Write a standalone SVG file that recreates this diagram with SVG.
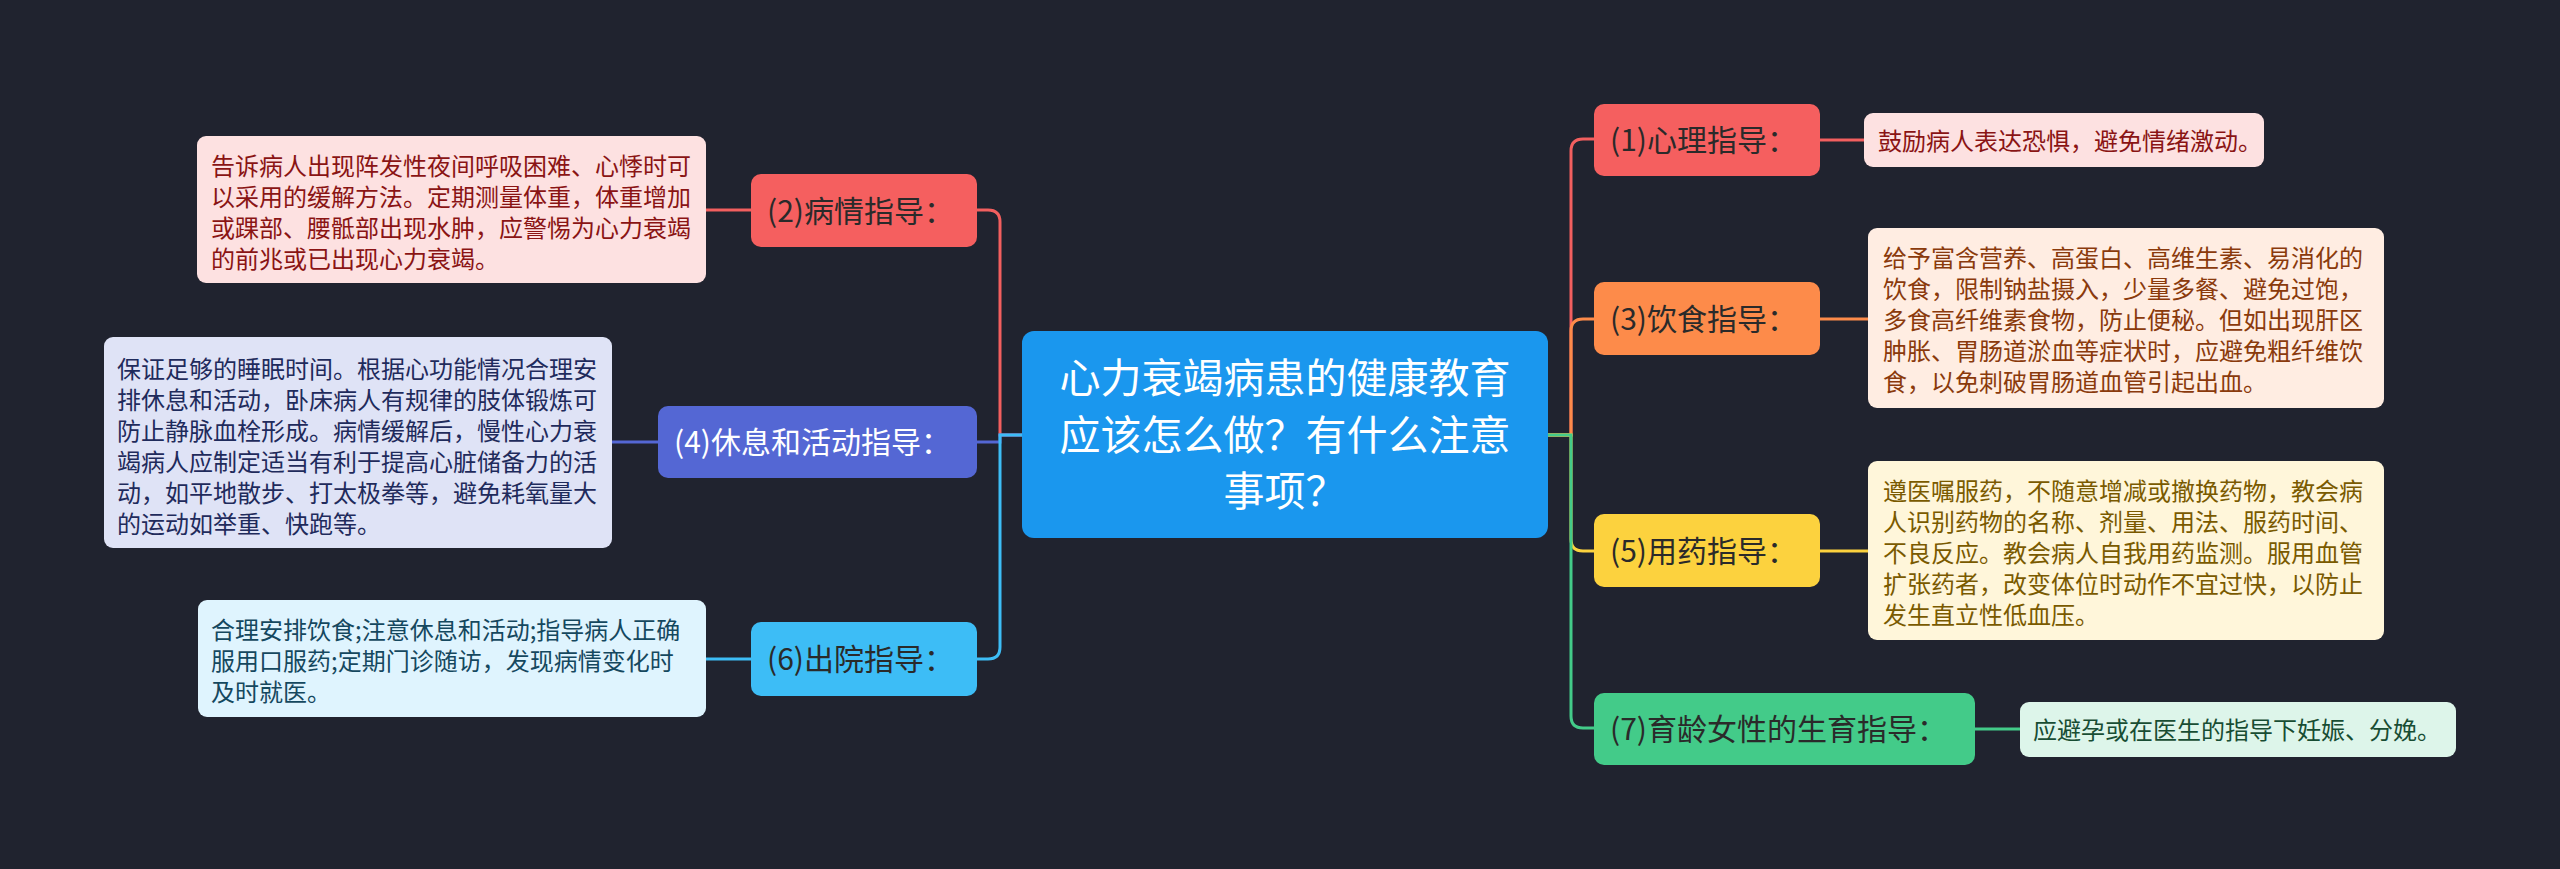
<svg xmlns="http://www.w3.org/2000/svg" width="2560" height="869" viewBox="0 0 2560 869">
<style>
text{font-family:"Noto Sans CJK SC","Noto Sans",sans-serif;}
.c{fill:none;stroke-width:3;}
.nt{font-size:30px;fill:#2a2a2a;}
.dt{font-size:24px;}
.ct{font-size:41px;fill:#ffffff;}
</style>
<rect x="0" y="0" width="2560" height="869" fill="#20232f"/>
<g id="connectors">
<path class="c" stroke="#f25f5f" d="M1023,435 H1000 V222 Q1000,210 988,210 H977"/>
<path class="c" stroke="#5467d4" d="M1023,435 H1000 V442 H977"/>
<path class="c" stroke="#3dbdf6" d="M1023,435 H1000 V647 Q1000,659 988,659 H977"/>
<path class="c" stroke="#f25f5f" d="M1548,435 H1571 V151 Q1571,139 1583,139 H1594"/>
<path class="c" stroke="#fd8b4a" d="M1548,435 H1571 V331 Q1571,319 1583,319 H1594"/>
<path class="c" stroke="#fcd23e" d="M1548,435 H1571 V539 Q1571,551 1583,551 H1594"/>
<path class="c" stroke="#43cb89" d="M1548,435 H1571 V716 Q1571,728 1583,728 H1594"/>
<path class="c" stroke="#f25f5f" d="M706,210 H751"/>
<path class="c" stroke="#5467d4" d="M612,442 H658"/>
<path class="c" stroke="#3dbdf6" d="M706,659 H751"/>
<path class="c" stroke="#f25f5f" d="M1820,140 H1864"/>
<path class="c" stroke="#fd8b4a" d="M1820,319 H1868"/>
<path class="c" stroke="#fcd23e" d="M1820,551 H1868"/>
<path class="c" stroke="#43cb89" d="M1975,729 H2020"/>
</g>
<g id="center">
<rect x="1022" y="331" width="526" height="207" rx="12" fill="#1a97ee"/>
<text class="ct" text-anchor="middle" x="1285" y="393">心力衰竭病患的健康教育</text>
<text class="ct" text-anchor="middle" x="1285" y="450">应该怎么做？有什么注意</text>
<text class="ct" text-anchor="middle" x="1285" y="506">事项？</text>
</g>
<g id="n2">
<rect x="751" y="174" width="226" height="73" rx="10" fill="#f55f5f"/>
<text class="nt" x="767" y="222">(2)病情指导：</text>
</g>
<g id="d2">
<rect x="197" y="136" width="509" height="147" rx="9" fill="#fde1e1"/>
<text class="dt" fill="#8a1414" x="211" y="175">告诉病人出现阵发性夜间呼吸困难、心悸时可</text>
<text class="dt" fill="#8a1414" x="211" y="206">以采用的缓解方法。定期测量体重，体重增加</text>
<text class="dt" fill="#8a1414" x="211" y="237">或踝部、腰骶部出现水肿，应警惕为心力衰竭</text>
<text class="dt" fill="#8a1414" x="211" y="268">的前兆或已出现心力衰竭。</text>
</g>
<g id="n4">
<rect x="658" y="406" width="319" height="72" rx="10" fill="#5467d4"/>
<text class="nt" style="fill:#ffffff" x="674" y="453">(4)休息和活动指导：</text>
</g>
<g id="d4">
<rect x="104" y="337" width="508" height="211" rx="9" fill="#dfe3f6"/>
<text class="dt" fill="#1f2b5c" x="117" y="378">保证足够的睡眠时间。根据心功能情况合理安</text>
<text class="dt" fill="#1f2b5c" x="117" y="409">排休息和活动，卧床病人有规律的肢体锻炼可</text>
<text class="dt" fill="#1f2b5c" x="117" y="440">防止静脉血栓形成。病情缓解后，慢性心力衰</text>
<text class="dt" fill="#1f2b5c" x="117" y="471">竭病人应制定适当有利于提高心脏储备力的活</text>
<text class="dt" fill="#1f2b5c" x="117" y="502">动，如平地散步、打太极拳等，避免耗氧量大</text>
<text class="dt" fill="#1f2b5c" x="117" y="533">的运动如举重、快跑等。</text>
</g>
<g id="n6">
<rect x="751" y="622" width="226" height="74" rx="10" fill="#3dbdf6"/>
<text class="nt" x="767" y="670">(6)出院指导：</text>
</g>
<g id="d6">
<rect x="198" y="600" width="508" height="117" rx="9" fill="#dff4fe"/>
<text class="dt" fill="#15485f" x="211" y="639">合理安排饮食;注意休息和活动;指导病人正确</text>
<text class="dt" fill="#15485f" x="211" y="670">服用口服药;定期门诊随访，发现病情变化时</text>
<text class="dt" fill="#15485f" x="211" y="701">及时就医。</text>
</g>
<g id="n1">
<rect x="1594" y="104" width="226" height="72" rx="10" fill="#f55f5f"/>
<text class="nt" x="1610" y="151">(1)心理指导：</text>
</g>
<g id="d1">
<rect x="1864" y="113" width="400" height="54" rx="9" fill="#fde1e1"/>
<text class="dt" fill="#8a1414" x="1878" y="150">鼓励病人表达恐惧，避免情绪激动。</text>
</g>
<g id="n3">
<rect x="1594" y="282" width="226" height="73" rx="10" fill="#fd8b4a"/>
<text class="nt" x="1610" y="330">(3)饮食指导：</text>
</g>
<g id="d3">
<rect x="1868" y="228" width="516" height="180" rx="9" fill="#ffede2"/>
<text class="dt" fill="#8a3a0c" x="1883" y="267">给予富含营养、高蛋白、高维生素、易消化的</text>
<text class="dt" fill="#8a3a0c" x="1883" y="298">饮食，限制钠盐摄入，少量多餐、避免过饱，</text>
<text class="dt" fill="#8a3a0c" x="1883" y="329">多食高纤维素食物，防止便秘。但如出现肝区</text>
<text class="dt" fill="#8a3a0c" x="1883" y="360">肿胀、胃肠道淤血等症状时，应避免粗纤维饮</text>
<text class="dt" fill="#8a3a0c" x="1883" y="391">食，以免刺破胃肠道血管引起出血。</text>
</g>
<g id="n5">
<rect x="1594" y="514" width="226" height="73" rx="10" fill="#fcd23e"/>
<text class="nt" x="1610" y="562">(5)用药指导：</text>
</g>
<g id="d5">
<rect x="1868" y="461" width="516" height="179" rx="9" fill="#fff6da"/>
<text class="dt" fill="#7a5a00" x="1883" y="500">遵医嘱服药，不随意增减或撤换药物，教会病</text>
<text class="dt" fill="#7a5a00" x="1883" y="531">人识别药物的名称、剂量、用法、服药时间、</text>
<text class="dt" fill="#7a5a00" x="1883" y="562">不良反应。教会病人自我用药监测。服用血管</text>
<text class="dt" fill="#7a5a00" x="1883" y="593">扩张药者，改变体位时动作不宜过快，以防止</text>
<text class="dt" fill="#7a5a00" x="1883" y="624">发生直立性低血压。</text>
</g>
<g id="n7">
<rect x="1594" y="693" width="381" height="72" rx="10" fill="#43cb89"/>
<text class="nt" x="1610" y="740">(7)育龄女性的生育指导：</text>
</g>
<g id="d7">
<rect x="2020" y="702" width="436" height="55" rx="9" fill="#ddf5ea"/>
<text class="dt" fill="#184d33" x="2033" y="739">应避孕或在医生的指导下妊娠、分娩。</text>
</g>
</svg>
